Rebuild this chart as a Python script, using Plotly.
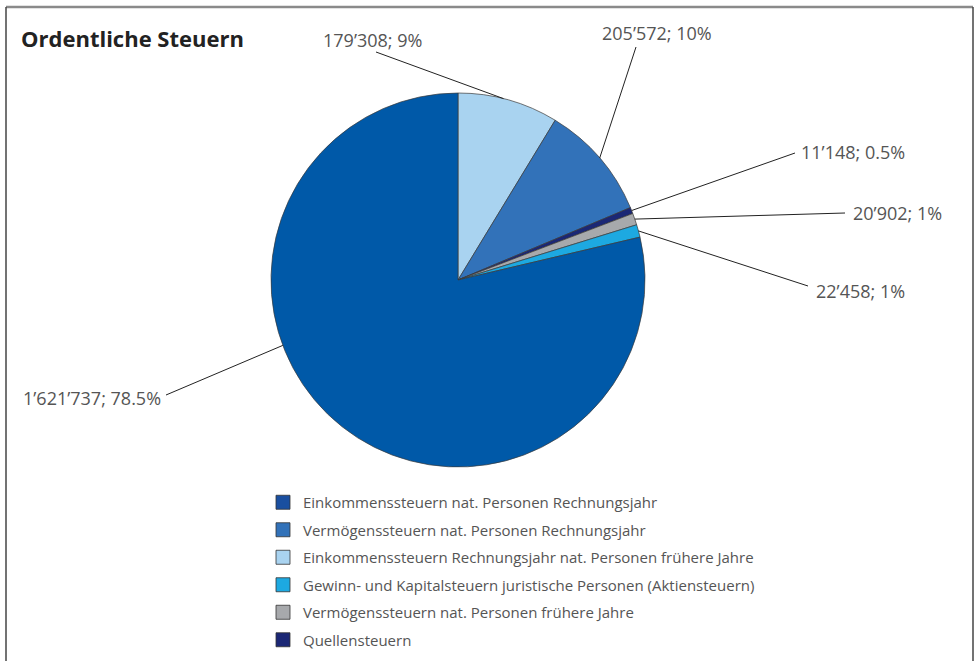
import math
import plotly.graph_objects as go

# ---- data (clockwise from 12 o'clock, as drawn) ----
slice_names = [
    "Einkommenssteuern Rechnungsjahr nat. Personen frühere Jahre",
    "Vermögenssteuern nat. Personen Rechnungsjahr",
    "Quellensteuern",
    "Vermögenssteuern nat. Personen frühere Jahre",
    "Gewinn- und Kapitalsteuern juristische Personen (Aktiensteuern)",
    "Einkommenssteuern nat. Personen Rechnungsjahr",
]
slice_values = [179308, 205572, 11148, 20902, 22458, 1621737]
slice_pct_labels = ["9%", "10%", "0.5%", "1%", "1%", "78.5%"]
slice_colors = ["#A9D3F0", "#3272B9", "#1B2775", "#A7A9AC", "#1DA9E1", "#0059A8"]

# legend order as in the reference
legend_order = [
    "Einkommenssteuern nat. Personen Rechnungsjahr",
    "Vermögenssteuern nat. Personen Rechnungsjahr",
    "Einkommenssteuern Rechnungsjahr nat. Personen frühere Jahre",
    "Gewinn- und Kapitalsteuern juristische Personen (Aktiensteuern)",
    "Vermögenssteuern nat. Personen frühere Jahre",
    "Quellensteuern",
]
legend_colors = ["#1A4FA0", "#3272B9", "#A9D3F0", "#1DA9E1", "#A7A9AC", "#1B2775"]

title_text = "Ordentliche Steuern"

# ---- layout constants (pixels) ----
W, H = 978, 661
CX, CY, R = 458, 280, 187
label_pos = [
    dict(tx=372, ty=40, xa="center", lx=376, ly=52, f=0.45),
    dict(tx=657, ty=33, xa="center", lx=636, ly=47, f=0.5),
    dict(tx=799, ty=152, xa="left", lx=795, ly=153, f=0.5),
    dict(tx=851, ty=213, xa="left", lx=845, ly=213, f=0.5),
    dict(tx=814, ty=291, xa="left", lx=808, ly=286, f=0.5),
    dict(tx=163, ty=398, xa="right", lx=166, ly=395, f=0.61),
]

def px(x):
    return x / W

def py(y):
    return 1 - y / H

def fmt(v):
    return f"{v:,}".replace(",", "\u2019")

fig = go.Figure()

fig.add_trace(go.Pie(
    labels=slice_names,
    values=slice_values,
    sort=False,
    direction="clockwise",
    rotation=0,
    marker=dict(colors=slice_colors, line=dict(color="#3a3a3a", width=0.7)),
    textinfo="none",
    hoverinfo="label+value+percent",
    showlegend=False,
    domain=dict(x=[px(CX - R), px(CX + R)], y=[py(CY + R), py(CY - R)]),
))

for i, (name, col) in enumerate(zip(legend_order, legend_colors)):
    fig.add_trace(go.Scatter(
        x=[None], y=[None], mode="markers", name=name, legendgroup=f"g{i}",
        marker=dict(symbol="square", size=14, color=col, line=dict(color="#333", width=0.8)),
        showlegend=True,
    ))

total = sum(slice_values)
cum = 0
shapes = []
annotations = []
for v, pct, lp in zip(slice_values, slice_pct_labels, label_pos):
    frac = (cum + v * lp["f"]) / total
    cum += v
    theta = 2 * math.pi * frac
    ex = CX + R * math.sin(theta)
    ey = CY - R * math.cos(theta)
    shapes.append(dict(type="line", xref="paper", yref="paper",
                       x0=px(lp["lx"]), y0=py(lp["ly"]), x1=px(ex), y1=py(ey),
                       line=dict(color="#222", width=1)))
    annotations.append(dict(xref="paper", yref="paper", x=px(lp["tx"]), y=py(lp["ty"]),
                            text=f"{fmt(v)}; {pct}", showarrow=False,
                            xanchor=lp["xa"], yanchor="middle",
                            font=dict(family="Open Sans", size=18, color="#555")))

annotations.append(dict(xref="paper", yref="paper", x=px(19), y=py(38), text=f"<b>{title_text}</b>",
                        showarrow=False, xanchor="left", yanchor="middle",
                        font=dict(family="Open Sans", size=22, color="#222")))

shapes += [
    dict(type="line", xref="paper", yref="paper", x0=px(6), x1=px(973), y0=py(7), y1=py(7),
         line=dict(color="#8a8a8a", width=2.5)),
    dict(type="line", xref="paper", yref="paper", x0=px(6), x1=px(6), y0=py(7), y1=py(H + 5),
         line=dict(color="#444", width=1.5)),
    dict(type="line", xref="paper", yref="paper", x0=px(973), x1=px(973), y0=py(7), y1=py(H + 5),
         line=dict(color="#444", width=1.5)),
]

fig.update_layout(
    width=W, height=H,
    margin=dict(l=0, r=0, t=0, b=0),
    paper_bgcolor="white", plot_bgcolor="white",
    xaxis=dict(visible=False), yaxis=dict(visible=False),
    shapes=shapes, annotations=annotations,
    legend=dict(x=px(263), y=py(486), xanchor="left", yanchor="top",
                font=dict(family="Open Sans", size=15, color="#555"),
                bgcolor="rgba(0,0,0,0)", itemwidth=30, tracegroupgap=5),
)

fig.write_html("out.html", config={"displayModeBar": False},
               post_script="document.body.style.margin='0px';document.body.style.overflow='hidden';")
